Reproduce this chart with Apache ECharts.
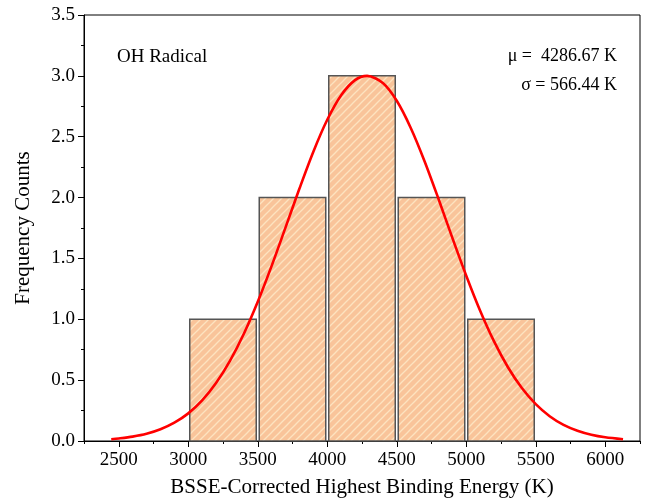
<!DOCTYPE html>
<html><head><meta charset="utf-8">
<script src="https://cdn.jsdelivr.net/npm/echarts@6/dist/echarts.min.js"></script>
<style>html,body{margin:0;padding:0;background:#fff}#c{width:657px;height:503px}</style>
</head><body><div id="c"></div>
<script>
// Histogram bins
const binStarts = [3000, 3500, 4000, 4500, 5000];
const binEnds   = [3500, 4000, 4500, 5000, 5500];
const counts    = [1, 2, 3, 2, 1];
// Fitted normal curve
const curveX = [2446, 2500, 2600, 2700, 2800, 2900, 3000, 3100, 3200, 3300, 3400, 3500, 3600, 3700, 3800, 3900, 4000, 4100, 4200, 4287, 4400, 4500, 4600, 4700, 4800, 4900, 5000, 5100, 5200, 5300, 5400, 5500, 5600, 5700, 5800, 5900, 6000, 6128];
const curveY = [0.015, 0.021, 0.036, 0.059, 0.096, 0.150, 0.227, 0.334, 0.476, 0.658, 0.881, 1.144, 1.439, 1.755, 2.074, 2.377, 2.639, 2.841, 2.965, 3.000, 2.941, 2.795, 2.574, 2.299, 1.990, 1.669, 1.358, 1.070, 0.818, 0.606, 0.435, 0.303, 0.204, 0.133, 0.085, 0.052, 0.031, 0.015];
// Tick values
const xMajorTicks = [2500, 3000, 3500, 4000, 4500, 5000, 5500, 6000];
const xMinorTicks = [2250, 2750, 3250, 3750, 4250, 4750, 5250, 5750, 6250];
const yTickLabels = ['0.0','0.5','1.0','1.5','2.0','2.5','3.0','3.5'];
const titleX = 'BSSE-Corrected Highest Binding Energy (K)';
const titleY = 'Frequency Counts';
const annotLabel = 'OH Radical';
const annotMu = 'μ =  4286.67 K';
const annotSigma = 'σ = 566.44 K';

const cv = document.createElement('canvas');
cv.width = 8; cv.height = 8;
const g = cv.getContext('2d');
g.fillStyle = '#F9C49A'; g.fillRect(0,0,8,8);
g.strokeStyle = '#FDE3C0';
g.lineWidth = 1.3;
[0, 8, 16].forEach(function(k){ g.beginPath(); g.moveTo(k - 9, 9); g.lineTo(k + 1, -1); g.stroke(); });
const hatch = {image: cv, repeat: 'repeat'};

const font = 'Liberation Serif, Times New Roman, serif';
const barData = binStarts.map(function(s,i){ return [s, binEnds[i], counts[i]]; });
const lineData = curveX.map(function(x,i){ return [x, curveY[i]]; });

const chart = echarts.init(document.getElementById('c'), null, {renderer:'canvas'});
chart.setOption({
  animation: false,
  grid: {left: 84, right: 17, top: 15, bottom: 62, show: true, borderColor: '#000', borderWidth: 1, backgroundColor: 'transparent'},
  xAxis: [{
    type: 'value', min: 2250, max: 6250, interval: 250,
    name: titleX, nameLocation: 'middle', nameGap: 36,
    nameTextStyle: {fontFamily: font, fontSize: 21, color: '#000'},
    axisLine: {show: true, onZero: false, lineStyle: {color: '#000', width: 1}},
    axisTick: {show: true, inside: false, length: 6, customValues: xMajorTicks, lineStyle: {color: '#000'}},
    axisLabel: {show: true, margin: 10, customValues: xMajorTicks, fontFamily: font, fontSize: 19, color: '#000',
      formatter: function(v){ return String(v); }},
    splitLine: {show: false}
  }, {
    type: 'value', min: 2250, max: 6250, interval: 250, position: 'bottom',
    axisLine: {show: false},
    axisTick: {show: true, length: 3, customValues: xMinorTicks, lineStyle: {color: '#000'}},
    axisLabel: {show: false},
    splitLine: {show: false}
  }],
  yAxis: {
    type: 'value', min: 0, max: 3.5, interval: 0.5,
    name: titleY, nameLocation: 'middle', nameGap: 50,
    nameTextStyle: {fontFamily: font, fontSize: 21, color: '#000'},
    axisLine: {show: true, lineStyle: {color: '#000', width: 1}},
    axisTick: {show: true, length: 6, lineStyle: {color: '#000'}},
    minorTick: {show: true, splitNumber: 2, length: 3, lineStyle: {color: '#000'}},
    axisLabel: {margin: 9, fontFamily: font, fontSize: 19, color: '#000',
      formatter: function(v){ return yTickLabels[Math.round(v/0.5)]; }},
    splitLine: {show: false}
  },
  series: [{
    type: 'custom', xAxisIndex: 0,
    data: barData,
    encode: {x: [0, 1], y: 2},
    renderItem: function(params, api){
      const p0 = api.coord([api.value(0), api.value(2)]);
      const p1 = api.coord([api.value(1), 0]);
      return {type: 'rect', shape: {x: p0[0] + 1.5, y: p0[1], width: p1[0] - p0[0] - 3, height: p1[1] - p0[1]},
        style: {fill: hatch, stroke: '#555', lineWidth: 1.5}};
    },
    z: 2
  }, {
    type: 'line', xAxisIndex: 0, data: lineData, smooth: 0.3, showSymbol: false,
    lineStyle: {color: '#FF0000', width: 2.6}, z: 5
  }],
  graphic: [
    {type: 'text', x: 117, y: 57, style: {text: annotLabel, font: '19px ' + font, fill: '#000', verticalAlign: 'middle'}},
    {type: 'text', x: 617, y: 56, style: {text: annotMu, font: '18px ' + font, fill: '#000', align: 'right', verticalAlign: 'middle'}},
    {type: 'text', x: 617, y: 85, style: {text: annotSigma, font: '18px ' + font, fill: '#000', align: 'right', verticalAlign: 'middle'}}
  ]
});
</script></body></html>
